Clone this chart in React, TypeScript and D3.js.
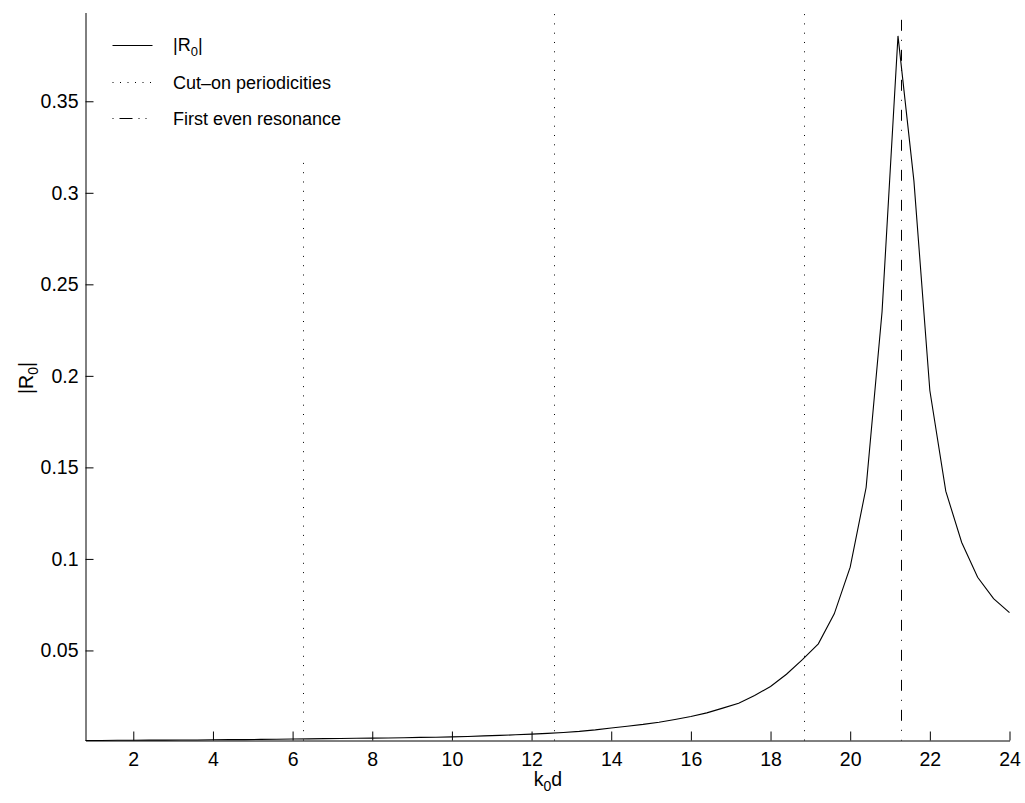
import React, { useEffect, useRef } from 'react';
import * as d3 from 'd3';

// k0d samples (step 0.4 from 0.8 to 24) and |R0|
const kValues = d3.range(0, 59).map(i => +(0.8 + i * 0.4).toFixed(1));
const r0Values = [
  0.0008, 0.0008, 0.0009, 0.0009, 0.0010, 0.0010, 0.0011, 0.0011, 0.0012, 0.0013, // 0.8 - 4.4
  0.0013, 0.0014, 0.0015, 0.0016, 0.0017, 0.0018, 0.0019, 0.0020, 0.0021, 0.0022, // 4.8 - 8.4
  0.0023, 0.0025, 0.0026, 0.0028, 0.0030, 0.0033, 0.0036, 0.0039, 0.0043, 0.0047, // 8.8 - 12.4
  0.0052, 0.0058, 0.0066, 0.0076, 0.0086, 0.0096, 0.0108, 0.0123, 0.0139, 0.0159, // 12.8 - 16.4
  0.0185, 0.0212, 0.0254, 0.0303, 0.0370, 0.0450, 0.0536, 0.0700, 0.0955, 0.1390, // 16.8 - 20.4
  0.2350, 0.3857, 0.3065, 0.1920, 0.1370, 0.1090, 0.0900, 0.0783, 0.0707          // 20.8 - 24
];

// cut-on periodicities (k0d = 2*pi*n) and the first even resonance
const cutOnK = [2 * Math.PI, 4 * Math.PI, 6 * Math.PI];
const cutOnTop = [0.317, 0.398, 0.398];
const resonanceK = 21.28;
const resonanceTop = 0.3945;

const xTicks = [2, 4, 6, 8, 10, 12, 14, 16, 18, 20, 22, 24];
const yTicks = [0.05, 0.1, 0.15, 0.2, 0.25, 0.3, 0.35];

const legendLabels = ['Cut\u2013on periodicities', 'First even resonance'];

const FONT = '"Liberation Sans", Arial, Helvetica, sans-serif';

const App = () => {
  const ref = useRef<SVGSVGElement | null>(null);

  useEffect(() => {
    if (!ref.current) return;
    const svg = d3.select(ref.current);
    svg.selectAll('*').remove();

    const left = 85, right = 1009, top = 12, bottom = 740;

    const x = d3.scaleLinear().domain([0.8, 24]).range([left, right]);
    const y = d3.scaleLinear().domain([0.0008, 0.3985]).range([bottom, top]);

    const data = kValues.map((k, i) => ({ k, r: r0Values[i] }));

    const g = svg.append('g').attr('transform', 'translate(0.5,0.5)');

    // cut-on periodicities (dotted)
    g.selectAll('line.cuton')
      .data(cutOnK)
      .enter()
      .append('line')
      .attr('class', 'cuton')
      .attr('x1', d => Math.round(x(d)))
      .attr('x2', d => Math.round(x(d)))
      .attr('y1', bottom)
      .attr('y2', (d, i) => y(cutOnTop[i]))
      .attr('stroke', '#000')
      .attr('stroke-width', 1)
      .attr('stroke-dasharray', '1,8.3');

    // first even resonance (dash-dot)
    g.append('line')
      .attr('x1', Math.round(x(resonanceK)))
      .attr('x2', Math.round(x(resonanceK)))
      .attr('y1', y(resonanceTop))
      .attr('y2', bottom)
      .attr('stroke', '#000')
      .attr('stroke-width', 1)
      .attr('stroke-dasharray', '11,9,1,9');

    // |R0| curve
    const line = d3.line<{ k: number; r: number }>()
      .x(d => x(d.k))
      .y(d => y(d.r));
    g.append('path')
      .datum(data)
      .attr('d', line)
      .attr('fill', 'none')
      .attr('stroke', '#000')
      .attr('stroke-width', 1.1);

    // axes, MATLAB style inward ticks
    const xAxis = g.append('g')
      .attr('transform', `translate(0,${bottom})`)
      .call(d3.axisBottom(x).tickValues(xTicks).tickSizeInner(-9).tickSizeOuter(0).tickPadding(12)
        .tickFormat(d => String(d)));
    const yAxis = g.append('g')
      .attr('transform', `translate(${left},0)`)
      .call(d3.axisLeft(y).tickValues(yTicks).tickSizeInner(-8).tickSizeOuter(0).tickPadding(7)
        .tickFormat(d => String(+(+d).toFixed(2))));

    [xAxis, yAxis].forEach(a => {
      a.selectAll('text')
        .attr('font-family', FONT)
        .attr('font-size', 19.5)
        .attr('fill', '#000');
      a.selectAll('line').attr('stroke', '#000');
      a.select('.domain').attr('stroke', '#000');
    });

    // axis labels
    const xl = svg.append('text')
      .attr('x', 548)
      .attr('y', 786)
      .attr('text-anchor', 'middle')
      .attr('font-family', FONT)
      .attr('font-size', 19.5);
    xl.append('tspan').text('k');
    xl.append('tspan').attr('font-size', 14).attr('dy', 5).text('0');
    xl.append('tspan').attr('dy', -5).text('d');

    const yl = svg.append('text')
      .attr('transform', 'translate(33,378) rotate(-90)')
      .attr('text-anchor', 'middle')
      .attr('font-family', FONT)
      .attr('font-size', 19.5);
    yl.append('tspan').text('|R');
    yl.append('tspan').attr('font-size', 14).attr('dy', 5).text('0');
    yl.append('tspan').attr('dy', -5).text('|');

    // legend
    const lg = svg.append('g').attr('transform', 'translate(0.5,0.5)');
    const rows = [45, 82, 118];
    lg.append('line')
      .attr('x1', 112).attr('x2', 152).attr('y1', rows[0]).attr('y2', rows[0])
      .attr('stroke', '#000');
    lg.append('line')
      .attr('x1', 112).attr('x2', 152).attr('y1', rows[1]).attr('y2', rows[1])
      .attr('stroke', '#000').attr('stroke-dasharray', '1,6.5');
    lg.append('line')
      .attr('x1', 112).attr('x2', 152).attr('y1', rows[2]).attr('y2', rows[2])
      .attr('stroke', '#000').attr('stroke-dasharray', '1,6,13,6,1,6');

    const t0 = svg.append('text')
      .attr('x', 173)
      .attr('y', rows[0] + 6)
      .attr('font-family', FONT)
      .attr('font-size', 18);
    t0.append('tspan').text('|R');
    t0.append('tspan').attr('font-size', 13).attr('dy', 5).text('0');
    t0.append('tspan').attr('dy', -5).text('|');

    svg.selectAll('text.leg')
      .data(legendLabels)
      .enter()
      .append('text')
      .attr('class', 'leg')
      .attr('x', 173)
      .attr('y', (d, i) => rows[i + 1] + 6.5)
      .attr('font-family', FONT)
      .attr('font-size', 18)
      .text(d => d);
  }, []);

  return (
    <svg
      ref={ref}
      width={1025}
      height={803}
      style={{ position: 'absolute', left: 0, top: 0, background: '#fff' }}
    />
  );
};

export default App;
